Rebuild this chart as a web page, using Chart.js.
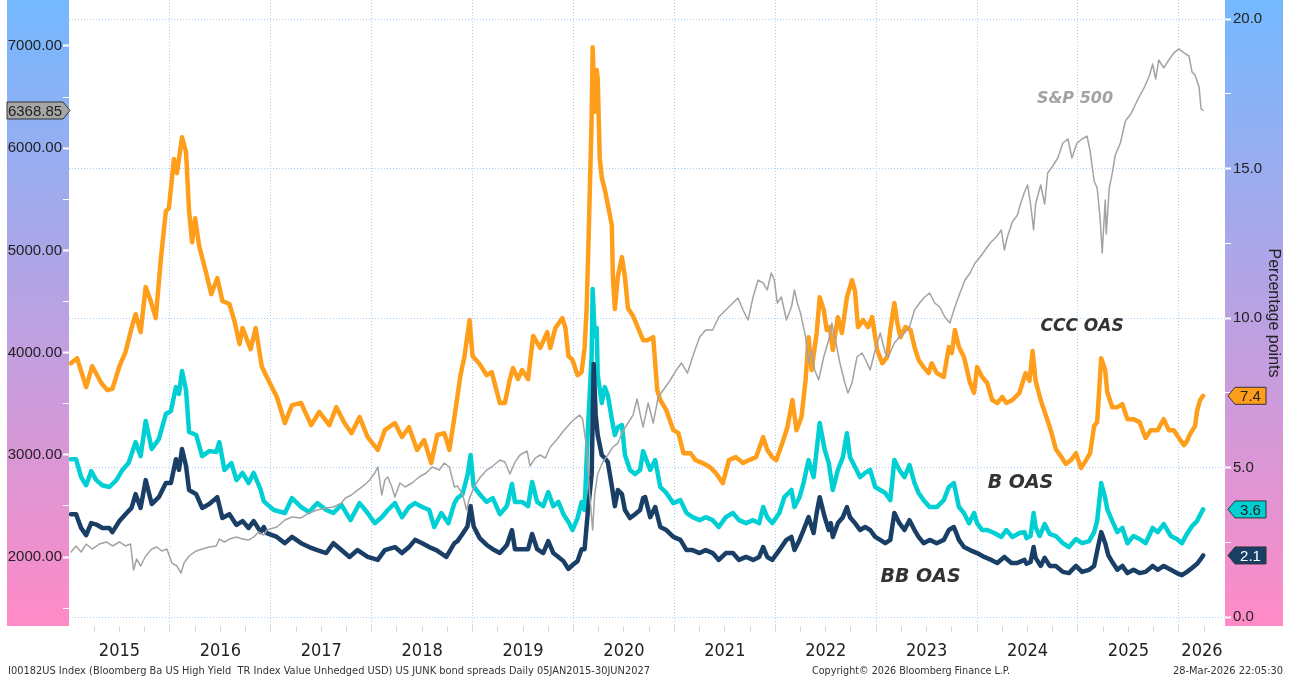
<!DOCTYPE html>
<html>
<head>
<meta charset="utf-8">
<title>US junk bond spreads</title>
<script src="https://cdn.jsdelivr.net/npm/chart.js@4.4.1/dist/chart.umd.min.js"></script>
<style>
  html, body { margin: 0; padding: 0; background: #fff; }
  canvas { display: block; }
</style>
</head>
<body>
<canvas id="spreadChart" width="1291" height="685"></canvas>
<script>
// Values, dates as decimal years
const spx = [[2015.02,2049],[2015.07,2108],[2015.12,2049],[2015.17,2127],[2015.23,2078],[2015.30,2127],[2015.37,2147],[2015.43,2108],[2015.50,2147],[2015.56,2108],[2015.61,2127],[2015.64,1873],[2015.67,1980],[2015.71,1912],[2015.76,2010],[2015.82,2078],[2015.87,2098],[2015.92,2059],[2015.97,2078],[2016.02,1941],[2016.07,1912],[2016.11,1843],[2016.14,1941],[2016.19,2010],[2016.26,2059],[2016.32,2078],[2016.39,2098],[2016.46,2108],[2016.49,2176],[2016.54,2147],[2016.59,2176],[2016.66,2196],[2016.72,2176],[2016.78,2166],[2016.83,2196],[2016.88,2245],[2016.93,2215],[2016.96,2264],[2017.06,2294],[2017.14,2362],[2017.21,2391],[2017.30,2382],[2017.38,2431],[2017.46,2460],[2017.55,2480],[2017.62,2489],[2017.70,2528],[2017.74,2577],[2017.80,2607],[2017.86,2655],[2017.93,2705],[2017.98,2753],[2018.03,2822],[2018.06,2881],[2018.10,2607],[2018.13,2753],[2018.16,2783],[2018.20,2685],[2018.23,2587],[2018.28,2724],[2018.33,2685],[2018.40,2724],[2018.47,2783],[2018.54,2822],[2018.60,2881],[2018.67,2851],[2018.72,2920],[2018.77,2881],[2018.82,2685],[2018.85,2695],[2018.90,2616],[2018.94,2460],[2018.97,2577],[2019.02,2695],[2019.07,2773],[2019.14,2851],[2019.20,2890],[2019.27,2949],[2019.32,2929],[2019.37,2812],[2019.42,2929],[2019.47,2998],[2019.54,3037],[2019.57,2890],[2019.62,2968],[2019.67,2998],[2019.72,2968],[2019.77,3076],[2019.84,3155],[2019.90,3233],[2019.97,3311],[2020.01,3350],[2020.06,3389],[2020.09,3350],[2020.13,3076],[2020.16,2616],[2020.19,2264],[2020.21,2616],[2020.24,2812],[2020.29,2929],[2020.34,2998],[2020.39,3076],[2020.44,3115],[2020.49,3233],[2020.54,3311],[2020.59,3389],[2020.63,3546],[2020.66,3400],[2020.69,3272],[2020.74,3507],[2020.79,3311],[2020.84,3566],[2020.89,3634],[2020.96,3732],[2021.02,3830],[2021.07,3898],[2021.13,3800],[2021.18,3957],[2021.25,4153],[2021.31,4221],[2021.38,4221],[2021.44,4348],[2021.51,4417],[2021.58,4485],[2021.63,4534],[2021.68,4417],[2021.73,4319],[2021.78,4544],[2021.83,4710],[2021.88,4681],[2021.92,4613],[2021.96,4779],[2021.99,4710],[2022.02,4485],[2022.06,4544],[2022.11,4319],[2022.16,4446],[2022.19,4613],[2022.22,4480],[2022.25,4387],[2022.30,4153],[2022.33,3898],[2022.36,4025],[2022.39,3830],[2022.43,3732],[2022.48,3957],[2022.53,4123],[2022.56,4290],[2022.59,4153],[2022.64,3898],[2022.69,3703],[2022.72,3605],[2022.76,3703],[2022.81,3957],[2022.86,3996],[2022.91,3898],[2022.94,3830],[2022.99,4025],[2023.04,4192],[2023.09,3996],[2023.12,3957],[2023.18,4094],[2023.23,4153],[2023.28,4192],[2023.33,4251],[2023.38,4417],[2023.43,4485],[2023.48,4544],[2023.53,4583],[2023.58,4485],[2023.63,4446],[2023.68,4348],[2023.73,4290],[2023.78,4446],[2023.83,4583],[2023.88,4710],[2023.93,4779],[2023.98,4877],[2024.03,4936],[2024.08,5004],[2024.13,5072],[2024.19,5131],[2024.24,5200],[2024.27,5004],[2024.30,5131],[2024.35,5280],[2024.40,5346],[2024.43,5454],[2024.47,5572],[2024.50,5640],[2024.53,5454],[2024.56,5200],[2024.58,5454],[2024.63,5640],[2024.67,5454],[2024.70,5757],[2024.75,5826],[2024.80,5904],[2024.85,6051],[2024.90,6090],[2024.94,5904],[2024.99,6051],[2025.04,6090],[2025.09,6119],[2025.12,5973],[2025.16,5679],[2025.19,5611],[2025.22,5307],[2025.24,4975],[2025.27,5493],[2025.28,5161],[2025.31,5611],[2025.34,5757],[2025.37,5934],[2025.42,6051],[2025.47,6266],[2025.53,6345],[2025.60,6491],[2025.66,6599],[2025.71,6716],[2025.74,6824],[2025.77,6677],[2025.80,6863],[2025.85,6785],[2025.90,6863],[2025.95,6932],[2026.00,6971],[2026.05,6932],[2026.10,6902],[2026.13,6746],[2026.16,6716],[2026.20,6599],[2026.22,6384],[2026.24,6368.85]];

const cccOas = [[2015.02,8.49],[2015.08,8.66],[2015.17,7.69],[2015.23,8.39],[2015.32,7.83],[2015.38,7.59],[2015.43,7.63],[2015.50,8.39],[2015.56,8.86],[2015.62,9.67],[2015.66,10.13],[2015.71,9.53],[2015.76,11.04],[2015.81,10.57],[2015.86,10.00],[2015.91,11.97],[2015.96,13.58],[2015.99,13.68],[2016.04,15.32],[2016.07,14.85],[2016.12,16.05],[2016.16,15.55],[2016.19,13.58],[2016.22,12.54],[2016.25,13.34],[2016.29,12.41],[2016.36,11.50],[2016.41,10.80],[2016.47,11.34],[2016.52,10.57],[2016.59,10.47],[2016.64,9.90],[2016.69,9.13],[2016.72,9.67],[2016.80,8.96],[2016.85,9.67],[2016.91,8.39],[2016.96,8.03],[2017.06,7.36],[2017.14,6.49],[2017.21,7.09],[2017.30,7.16],[2017.40,6.42],[2017.48,6.86],[2017.58,6.42],[2017.65,7.02],[2017.73,6.49],[2017.80,6.15],[2017.88,6.69],[2017.96,6.02],[2018.06,5.59],[2018.13,6.25],[2018.23,6.49],[2018.30,6.02],[2018.37,6.35],[2018.45,5.59],[2018.52,5.92],[2018.59,5.15],[2018.65,6.09],[2018.72,6.15],[2018.77,5.59],[2018.82,6.69],[2018.88,8.09],[2018.92,8.73],[2018.97,9.93],[2019.00,8.73],[2019.07,8.46],[2019.14,8.09],[2019.19,8.19],[2019.22,7.80],[2019.27,7.16],[2019.32,7.16],[2019.37,7.96],[2019.40,8.33],[2019.45,7.96],[2019.49,8.26],[2019.55,7.96],[2019.60,9.40],[2019.67,9.00],[2019.74,9.53],[2019.77,9.00],[2019.82,9.67],[2019.89,10.00],[2019.92,9.67],[2019.95,8.73],[2019.99,8.60],[2020.04,8.09],[2020.08,8.19],[2020.11,9.00],[2020.13,10.30],[2020.15,12.70],[2020.18,16.70],[2020.19,19.06],[2020.21,16.90],[2020.23,18.30],[2020.24,18.00],[2020.26,15.35],[2020.28,14.70],[2020.31,14.30],[2020.34,13.80],[2020.38,13.10],[2020.39,11.40],[2020.41,10.30],[2020.44,11.40],[2020.48,12.04],[2020.51,11.37],[2020.54,10.33],[2020.59,10.07],[2020.64,9.67],[2020.69,9.26],[2020.73,9.26],[2020.79,9.36],[2020.83,7.59],[2020.86,7.26],[2020.92,6.92],[2020.99,6.25],[2021.04,6.15],[2021.09,5.48],[2021.16,5.48],[2021.21,5.25],[2021.28,5.15],[2021.35,5.02],[2021.41,4.82],[2021.48,4.48],[2021.54,5.25],[2021.61,5.35],[2021.68,5.15],[2021.74,5.25],[2021.81,5.35],[2021.88,6.02],[2021.92,5.59],[2021.97,5.35],[2022.01,5.25],[2022.07,5.82],[2022.12,6.35],[2022.17,7.26],[2022.21,6.25],[2022.26,6.69],[2022.30,7.93],[2022.33,9.36],[2022.36,8.26],[2022.41,9.50],[2022.44,10.70],[2022.48,10.27],[2022.51,9.60],[2022.54,9.70],[2022.57,8.93],[2022.62,10.03],[2022.66,9.50],[2022.71,10.70],[2022.76,11.27],[2022.79,10.90],[2022.82,9.70],[2022.87,9.93],[2022.92,9.70],[2022.96,10.03],[2023.01,8.93],[2023.06,8.49],[2023.11,8.70],[2023.14,9.60],[2023.18,10.50],[2023.21,9.83],[2023.24,9.36],[2023.29,9.70],[2023.34,9.60],[2023.38,9.03],[2023.42,8.60],[2023.47,8.36],[2023.52,8.16],[2023.55,8.49],[2023.60,8.16],[2023.67,8.03],[2023.72,9.03],[2023.75,8.83],[2023.78,9.60],[2023.82,9.03],[2023.87,8.70],[2023.90,8.26],[2023.93,7.83],[2023.97,7.50],[2024.00,8.36],[2024.05,8.03],[2024.10,7.83],[2024.15,7.26],[2024.20,7.16],[2024.25,7.36],[2024.29,7.16],[2024.35,7.26],[2024.42,7.50],[2024.48,8.16],[2024.52,7.90],[2024.55,8.90],[2024.58,7.90],[2024.63,7.26],[2024.68,6.76],[2024.73,6.25],[2024.78,5.62],[2024.83,5.38],[2024.88,5.12],[2024.93,5.25],[2024.98,5.48],[2025.03,4.98],[2025.08,5.25],[2025.12,5.48],[2025.16,6.39],[2025.19,6.52],[2025.23,8.66],[2025.27,8.26],[2025.29,7.53],[2025.34,7.02],[2025.39,7.02],[2025.44,7.12],[2025.49,6.62],[2025.55,6.62],[2025.61,6.52],[2025.67,5.99],[2025.72,6.25],[2025.79,6.25],[2025.85,6.62],[2025.90,6.25],[2025.95,6.25],[2026.00,5.99],[2026.05,5.75],[2026.08,5.88],[2026.11,6.12],[2026.16,6.39],[2026.18,6.89],[2026.21,7.26],[2026.24,7.40]];

const bOas = [[2015.02,5.28],[2015.07,5.28],[2015.12,4.68],[2015.17,4.41],[2015.22,4.88],[2015.27,4.58],[2015.33,4.41],[2015.40,4.35],[2015.47,4.58],[2015.53,4.92],[2015.59,5.15],[2015.66,5.85],[2015.71,5.38],[2015.76,6.56],[2015.82,5.62],[2015.89,5.95],[2015.96,6.79],[2016.01,6.89],[2016.06,7.69],[2016.09,7.46],[2016.12,8.23],[2016.16,7.59],[2016.19,6.19],[2016.26,6.09],[2016.32,5.38],[2016.39,5.55],[2016.46,5.52],[2016.49,5.85],[2016.54,4.92],[2016.61,5.15],[2016.66,4.58],[2016.72,4.82],[2016.78,4.48],[2016.83,4.82],[2016.90,4.25],[2016.93,3.88],[2016.95,3.81],[2017.03,3.58],[2017.14,3.48],[2017.21,3.98],[2017.30,3.68],[2017.38,3.51],[2017.46,3.81],[2017.55,3.58],[2017.62,3.48],[2017.70,3.75],[2017.79,3.24],[2017.88,3.81],[2017.96,3.48],[2018.03,3.14],[2018.10,3.34],[2018.16,3.58],[2018.23,3.81],[2018.30,3.34],[2018.37,3.68],[2018.43,3.81],[2018.50,3.68],[2018.57,3.58],[2018.62,3.01],[2018.69,3.48],[2018.76,3.14],[2018.82,3.81],[2018.85,3.98],[2018.90,4.11],[2018.95,4.75],[2018.98,5.42],[2019.01,4.38],[2019.07,4.11],[2019.14,3.85],[2019.20,3.98],[2019.27,3.44],[2019.34,3.71],[2019.39,4.45],[2019.42,3.85],[2019.49,3.85],[2019.55,3.71],[2019.59,4.52],[2019.64,3.85],[2019.70,3.71],[2019.75,4.18],[2019.80,3.71],[2019.85,3.85],[2019.90,3.44],[2019.95,3.18],[2019.99,2.91],[2020.04,3.31],[2020.08,3.85],[2020.11,3.58],[2020.14,6.09],[2020.18,8.73],[2020.19,10.97],[2020.21,9.40],[2020.23,9.67],[2020.24,8.09],[2020.28,7.16],[2020.31,7.69],[2020.34,7.42],[2020.38,6.62],[2020.41,6.09],[2020.44,6.35],[2020.48,6.42],[2020.51,5.42],[2020.56,4.92],[2020.61,4.78],[2020.66,4.92],[2020.69,5.55],[2020.76,4.92],[2020.81,5.25],[2020.86,4.35],[2020.92,4.15],[2020.99,3.81],[2021.06,3.91],[2021.12,3.48],[2021.18,3.34],[2021.25,3.24],[2021.31,3.34],[2021.38,3.24],[2021.44,3.01],[2021.51,3.34],[2021.58,3.48],[2021.64,3.24],[2021.71,3.14],[2021.78,3.24],[2021.84,3.14],[2021.88,3.68],[2021.92,3.34],[2021.97,3.14],[2022.04,3.48],[2022.09,4.01],[2022.16,4.25],[2022.19,3.68],[2022.24,4.01],[2022.28,4.48],[2022.33,5.25],[2022.38,4.68],[2022.41,5.59],[2022.44,6.49],[2022.49,5.59],[2022.53,5.15],[2022.57,4.25],[2022.62,4.92],[2022.67,5.35],[2022.71,6.15],[2022.74,5.35],[2022.79,5.02],[2022.84,4.68],[2022.89,4.82],[2022.94,4.92],[2022.99,4.35],[2023.04,4.25],[2023.09,4.15],[2023.14,3.91],[2023.18,5.25],[2023.23,4.92],[2023.28,4.68],[2023.33,5.08],[2023.38,4.48],[2023.42,4.15],[2023.47,3.91],[2023.53,3.68],[2023.60,3.68],[2023.67,3.91],[2023.72,4.35],[2023.77,4.48],[2023.82,3.68],[2023.87,3.48],[2023.92,3.14],[2023.97,3.48],[2024.00,3.14],[2024.05,2.91],[2024.10,2.91],[2024.17,2.81],[2024.24,2.68],[2024.29,2.91],[2024.35,2.68],[2024.42,2.81],[2024.47,2.84],[2024.49,2.64],[2024.53,2.71],[2024.56,3.48],[2024.58,3.00],[2024.62,2.71],[2024.67,3.11],[2024.72,2.78],[2024.78,2.71],[2024.85,2.47],[2024.91,2.34],[2024.98,2.61],[2025.04,2.47],[2025.11,2.54],[2025.16,2.84],[2025.19,3.21],[2025.23,4.48],[2025.27,3.98],[2025.29,3.61],[2025.34,3.21],[2025.39,2.84],[2025.44,2.98],[2025.49,2.47],[2025.55,2.71],[2025.61,2.61],[2025.67,2.47],[2025.74,2.98],[2025.79,2.84],[2025.85,3.11],[2025.92,2.71],[2025.98,2.61],[2026.03,2.47],[2026.08,2.78],[2026.13,3.04],[2026.18,3.21],[2026.21,3.41],[2026.24,3.60]];

const bbOas = [[2015.02,3.44],[2015.07,3.44],[2015.12,2.98],[2015.17,2.74],[2015.22,3.14],[2015.28,3.08],[2015.33,2.98],[2015.40,2.98],[2015.43,2.84],[2015.50,3.21],[2015.56,3.44],[2015.62,3.65],[2015.66,4.11],[2015.71,3.65],[2015.76,4.58],[2015.82,3.78],[2015.89,4.01],[2015.96,4.48],[2016.01,4.48],[2016.06,5.28],[2016.09,4.92],[2016.12,5.62],[2016.16,5.05],[2016.19,4.25],[2016.26,4.11],[2016.32,3.65],[2016.39,3.78],[2016.47,4.01],[2016.52,3.31],[2016.59,3.44],[2016.66,3.08],[2016.72,3.21],[2016.78,2.98],[2016.83,3.21],[2016.90,2.84],[2016.93,3.01],[2016.96,2.81],[2017.06,2.68],[2017.14,2.47],[2017.21,2.68],[2017.30,2.47],[2017.38,2.34],[2017.46,2.24],[2017.55,2.14],[2017.62,2.47],[2017.70,2.24],[2017.78,2.01],[2017.86,2.24],[2017.96,2.01],[2018.06,1.91],[2018.13,2.24],[2018.23,2.34],[2018.30,2.14],[2018.37,2.34],[2018.43,2.58],[2018.50,2.47],[2018.57,2.34],[2018.64,2.24],[2018.74,2.01],[2018.82,2.47],[2018.85,2.54],[2018.90,2.78],[2018.95,3.04],[2018.98,3.71],[2019.01,3.04],[2019.07,2.64],[2019.14,2.41],[2019.20,2.27],[2019.27,2.14],[2019.34,2.41],[2019.39,2.91],[2019.42,2.27],[2019.49,2.27],[2019.55,2.27],[2019.59,2.78],[2019.64,2.27],[2019.70,2.14],[2019.75,2.54],[2019.80,2.14],[2019.85,2.01],[2019.90,1.87],[2019.95,1.61],[2019.99,1.74],[2020.04,1.87],[2020.08,2.27],[2020.11,2.27],[2020.14,3.44],[2020.18,4.78],[2020.20,8.46],[2020.22,6.76],[2020.24,6.09],[2020.28,5.42],[2020.31,5.32],[2020.34,5.18],[2020.38,4.38],[2020.41,3.71],[2020.44,4.25],[2020.48,4.11],[2020.51,3.58],[2020.56,3.31],[2020.61,3.44],[2020.66,3.58],[2020.69,3.98],[2020.71,4.01],[2020.76,3.34],[2020.81,3.68],[2020.86,3.01],[2020.92,2.91],[2020.99,2.68],[2021.06,2.58],[2021.12,2.24],[2021.18,2.24],[2021.25,2.14],[2021.31,2.24],[2021.38,2.14],[2021.44,1.91],[2021.51,2.14],[2021.58,2.14],[2021.64,1.91],[2021.71,2.01],[2021.78,1.91],[2021.84,2.01],[2021.88,2.34],[2021.92,2.01],[2021.97,1.91],[2022.04,2.24],[2022.11,2.58],[2022.16,2.68],[2022.19,2.24],[2022.24,2.58],[2022.28,2.91],[2022.33,3.34],[2022.38,2.81],[2022.41,3.48],[2022.44,4.01],[2022.49,3.34],[2022.53,2.91],[2022.55,3.14],[2022.57,2.68],[2022.62,3.14],[2022.67,3.34],[2022.71,3.68],[2022.74,3.34],[2022.79,3.14],[2022.84,2.91],[2022.89,3.01],[2022.94,2.91],[2022.99,2.68],[2023.04,2.58],[2023.09,2.47],[2023.14,2.58],[2023.18,3.48],[2023.23,3.14],[2023.28,2.91],[2023.33,3.24],[2023.38,2.91],[2023.42,2.68],[2023.47,2.47],[2023.53,2.58],[2023.60,2.47],[2023.67,2.58],[2023.72,2.91],[2023.77,3.01],[2023.82,2.58],[2023.87,2.34],[2023.93,2.24],[2024.00,2.14],[2024.07,2.01],[2024.14,1.91],[2024.20,1.81],[2024.27,2.01],[2024.34,1.81],[2024.40,1.81],[2024.47,1.91],[2024.49,1.78],[2024.53,1.84],[2024.56,2.34],[2024.58,1.98],[2024.63,1.71],[2024.67,1.98],[2024.72,1.71],[2024.78,1.71],[2024.85,1.51],[2024.91,1.47],[2024.98,1.71],[2025.04,1.51],[2025.11,1.58],[2025.16,1.71],[2025.19,2.21],[2025.23,2.84],[2025.27,2.47],[2025.30,2.07],[2025.34,1.84],[2025.39,1.58],[2025.44,1.71],[2025.49,1.47],[2025.55,1.58],[2025.61,1.47],[2025.67,1.51],[2025.74,1.71],[2025.79,1.58],[2025.85,1.71],[2025.92,1.58],[2025.98,1.47],[2026.03,1.40],[2026.08,1.51],[2026.13,1.64],[2026.18,1.78],[2026.21,1.91],[2026.24,2.06]];

const yearLabels = ['2015', '2016', '2017', '2018', '2019', '2020', '2021', '2022', '2023', '2024', '2025', '2026'];
const leftTickValues = [1500, 2000, 2500, 3000, 3500, 4000, 4500, 5000, 5500, 6000, 6500, 7000];
const rightTickValues = [0, 2.5, 5, 7.5, 10, 12.5, 15, 17.5, 20];

const footerSource = 'I00182US Index (Bloomberg Ba US High Yield  TR Index Value Unhedged USD) US JUNK bond spreads Daily 05JAN2015-30JUN2027';
const footerCopyright = 'Copyright\u00a9 2026 Bloomberg Finance L.P.';
const footerStamp = '28-Mar-2026 22:05:30';

(function() {
	'use strict';

	const X_MIN = 2015.0;
	const X_MAX = 2026.457;
	const GRID = '#a9d0f5';
	const COLORS = {
		spx: '#a3a3a3',
		ccc: '#ff9e1b',
		b: '#00cfd3',
		bb: '#1a3f66'
	};

	function toPoints(rows) {
		return rows.map(r => ({ x: r[0], y: r[1] }));
	}

	function last(rows) {
		return rows[rows.length - 1][1];
	}

	// keep the plot area edge to edge: no extra room for half labels
	function noPadding(scale) {
		scale.paddingTop = 0;
		scale.paddingBottom = 0;
		scale.paddingLeft = 0;
		scale.paddingRight = 0;
	}

	/**
	 * x ticks: year boundaries (grid), quarters (small marks), label slots
	 */
	function buildXTicks(scale) {
		const ticks = [];
		for (let q = Math.ceil(X_MIN * 4) + 1; q / 4 < X_MAX; q++) {
			const v = q / 4;
			ticks.push({ value: v, quarter: true, boundary: Number.isInteger(v) });
		}
		yearLabels.forEach(label => {
			const y = Number(label);
			const centre = (Math.max(y, X_MIN) + Math.min(y + 1, X_MAX)) / 2;
			ticks.push({ value: centre, label: label });
		});
		ticks.sort((a, b) => a.value - b.value);
		scale.ticks = ticks;
	}

	// Gradient side panels behind the axes
	const panels = {
		id: 'panels',
		beforeDraw(chart) {
			const { ctx, chartArea } = chart;
			ctx.save();
			ctx.fillStyle = '#ffffff';
			ctx.fillRect(0, 0, chart.width, chart.height);
			const g = ctx.createLinearGradient(0, 0, 0, chartArea.bottom);
			g.addColorStop(0, '#74b9ff');
			g.addColorStop(1, '#ff8ac6');
			ctx.fillStyle = g;
			ctx.fillRect(7, 0, chartArea.left - 7, chartArea.bottom);
			ctx.fillRect(chartArea.right, 0, 58, chartArea.bottom);
			ctx.restore();
		}
	};

	function drawTag(ctx, text, x0, x1, y, arrow, fill, color) {
		const h = 17;
		const a = 7;
		ctx.beginPath();
		if (arrow === 'left') {
			ctx.moveTo(x0 - a, y);
			ctx.lineTo(x0, y - h / 2);
			ctx.lineTo(x1, y - h / 2);
			ctx.lineTo(x1, y + h / 2);
			ctx.lineTo(x0, y + h / 2);
		} else {
			ctx.moveTo(x0, y - h / 2);
			ctx.lineTo(x1, y - h / 2);
			ctx.lineTo(x1 + a, y);
			ctx.lineTo(x1, y + h / 2);
			ctx.lineTo(x0, y + h / 2);
		}
		ctx.closePath();
		ctx.fillStyle = fill;
		ctx.fill();
		ctx.lineWidth = 1;
		ctx.strokeStyle = '#333333';
		ctx.stroke();
		ctx.fillStyle = color;
		ctx.textAlign = 'center';
		ctx.textBaseline = 'middle';
		ctx.fillText(text, (x0 + x1) / 2, y + 1);
	}

	// Last-value tags, series names and footer
	const overlay = {
		id: 'overlay',
		afterDraw(chart) {
			const { ctx, chartArea } = chart;
			const yL = chart.scales.yL;
			const yR = chart.scales.yR;
			const x = chart.scales.x;
			ctx.save();

			ctx.font = '15px "Liberation Sans", Arial, sans-serif';
			drawTag(ctx, last(spx).toFixed(2), 7, 63, yL.getPixelForValue(last(spx)), 'right', '#a6a6a6', '#222222');
			const rx0 = chartArea.right + 10;
			const rx1 = chartArea.right + 41;
			drawTag(ctx, last(cccOas).toFixed(1), rx0, rx1, yR.getPixelForValue(last(cccOas)), 'left', COLORS.ccc, '#222222');
			drawTag(ctx, last(bOas).toFixed(1), rx0, rx1, yR.getPixelForValue(last(bOas)), 'left', COLORS.b, '#222222');
			drawTag(ctx, last(bbOas).toFixed(1), rx0, rx1, yR.getPixelForValue(last(bbOas)), 'left', COLORS.bb, '#ffffff');

			// series names
			const names = [
				{ text: 'S&P 500', x: 2024.97, y: yL.getPixelForValue(6480), color: '#a3a3a3', size: 16 },
				{ text: 'CCC OAS', x: 2025.04, y: yR.getPixelForValue(9.7), color: '#333333', size: 17 },
				{ text: 'B OAS', x: 2024.43, y: yR.getPixelForValue(4.48), color: '#333333', size: 19 },
				{ text: 'BB OAS', x: 2023.44, y: yR.getPixelForValue(1.34), color: '#333333', size: 19 }
			];
			ctx.textAlign = 'center';
			ctx.textBaseline = 'middle';
			names.forEach(n => {
				ctx.font = 'italic bold ' + n.size + 'px "DejaVu Sans", sans-serif';
				ctx.fillStyle = n.color;
				ctx.fillText(n.text, x.getPixelForValue(n.x), n.y);
			});

			// footer
			ctx.font = '11px "DejaVu Sans Condensed", "Liberation Sans Narrow", sans-serif';
			ctx.fillStyle = '#333333';
			ctx.textBaseline = 'middle';
			ctx.textAlign = 'left';
			ctx.fillText(footerSource, 8, 671, 642);
			ctx.textAlign = 'center';
			ctx.fillText(footerCopyright, 911, 671, 198);
			ctx.textAlign = 'right';
			ctx.fillText(footerStamp, 1283, 671, 110);
			ctx.restore();
		}
	};

	const lineBase = {
		pointRadius: 0,
		tension: 0,
		borderJoinStyle: 'round',
		borderCapStyle: 'round',
		fill: false
	};

	new Chart(document.getElementById('spreadChart'), {
		type: 'line',
		data: {
			datasets: [
				Object.assign({ label: 'S&P 500', data: toPoints(spx), borderColor: COLORS.spx, borderWidth: 1.5, yAxisID: 'yL' }, lineBase),
				Object.assign({ label: 'BB OAS', data: toPoints(bbOas), borderColor: COLORS.bb, borderWidth: 4.5, yAxisID: 'yR' }, lineBase),
				Object.assign({ label: 'B OAS', data: toPoints(bOas), borderColor: COLORS.b, borderWidth: 4.5, yAxisID: 'yR' }, lineBase),
				Object.assign({ label: 'CCC OAS', data: toPoints(cccOas), borderColor: COLORS.ccc, borderWidth: 4.5, yAxisID: 'yR' }, lineBase)
			]
		},
		options: {
			responsive: false,
			animation: false,
			layout: { padding: 0 },
			plugins: {
				legend: { display: false },
				tooltip: { enabled: false }
			},
			scales: {
				x: {
					type: 'linear',
					min: X_MIN,
					max: X_MAX,
					afterBuildTicks: buildXTicks,
					afterFit: s => { s.height = 59; noPadding(s); },
					border: { display: false, dash: [1, 2] },
					grid: {
						color: c => (c.tick && c.tick.boundary ? GRID : 'rgba(0,0,0,0)'),
						tickColor: c => (c.tick && c.tick.quarter ? '#d6d6d6' : 'rgba(0,0,0,0)'),
						tickLength: 6,
						tickBorderDash: [],
						lineWidth: 1
					},
					ticks: {
						autoSkip: false,
						maxRotation: 0,
						padding: 9,
						color: '#222222',
						font: { family: '"Liberation Sans Narrow", "DejaVu Sans Condensed", sans-serif', size: 18 },
						callback: (v, i, ticks) => ticks[i].label || ''
					}
				},
				yL: {
					type: 'linear',
					position: 'left',
					min: 1325,
					max: 7450,
					afterBuildTicks: s => { s.ticks = leftTickValues.map(v => ({ value: v })); },
					afterFit: s => { s.width = 69; noPadding(s); },
					border: { display: false },
					grid: {
						drawOnChartArea: false,
						tickColor: '#ffffff',
						tickLength: 6,
						tickWidth: c => (c.tick && c.tick.value % 1000 === 0 ? 2 : 1)
					},
					ticks: {
						padding: 1,
						color: '#222222',
						font: { family: '"Liberation Sans", Arial, sans-serif', size: 15 },
						callback: v => (v % 1000 === 0 ? v.toFixed(2) : '')
					}
				},
				yR: {
					type: 'linear',
					position: 'right',
					min: -0.3,
					max: 20.64,
					afterBuildTicks: s => { s.ticks = rightTickValues.map(v => ({ value: v })); },
					afterFit: s => { s.width = 66; noPadding(s); },
					border: { display: false, dash: [1, 2] },
					grid: {
						color: c => (c.tick && c.tick.value % 5 === 0 ? GRID : 'rgba(0,0,0,0)'),
						tickColor: '#ffffff',
						tickBorderDash: [],
						tickLength: 6,
						tickWidth: c => (c.tick && c.tick.value % 5 === 0 ? 2 : 1)
					},
					ticks: {
						padding: 2,
						color: '#222222',
						font: { family: '"Liberation Sans", Arial, sans-serif', size: 15 },
						callback: v => (v % 5 === 0 ? v.toFixed(1) : '')
					},
					title: {
						display: true,
						text: 'Percentage points',
						color: '#222222',
						padding: { top: 8, bottom: 0 },
						font: { family: '"Liberation Sans", Arial, sans-serif', size: 16 }
					}
				}
			}
		},
		plugins: [panels, overlay]
	});

})();
</script>
</body>
</html>
